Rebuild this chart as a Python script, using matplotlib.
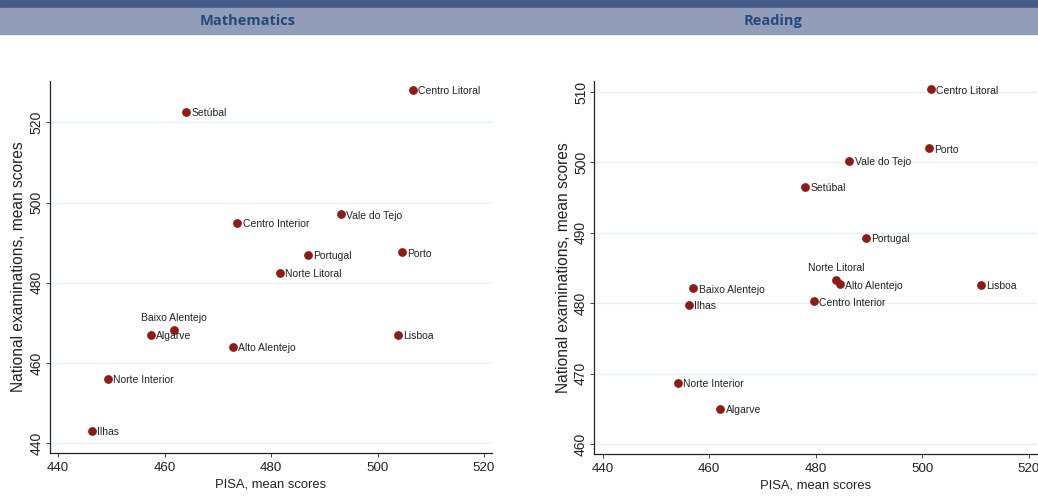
import matplotlib
matplotlib.use('Agg')
import matplotlib.pyplot as plt
from matplotlib.patches import Rectangle

plt.rcParams['font.family'] = ['Liberation Sans', 'DejaVu Sans']

# Mathematics: PISA vs national exams
math_regions = ['Centro Litoral', 'Setúbal', 'Vale do Tejo', 'Centro Interior', 'Portugal',
                'Porto', 'Norte Litoral', 'Baixo Alentejo', 'Algarve', 'Alto Alentejo',
                'Lisboa', 'Norte Interior', 'Ilhas']
math_pisa = [506.6, 464.0, 493.1, 473.7, 486.9, 504.6, 481.6, 461.7, 457.5, 472.9, 503.8, 449.3, 446.3]
math_nat = [528.1, 522.6, 497.1, 494.9, 487.0, 487.6, 482.5, 468.2, 467.1, 464.1, 467.1, 456.1, 443.1]

# Reading
read_regions = ['Centro Litoral', 'Porto', 'Vale do Tejo', 'Setúbal', 'Portugal', 'Norte Litoral',
                'Alto Alentejo', 'Lisboa', 'Baixo Alentejo', 'Ilhas', 'Centro Interior',
                'Norte Interior', 'Algarve']
read_pisa = [501.6, 501.3, 486.3, 478.0, 489.4, 483.8, 484.5, 511.0, 457.0, 456.2, 479.7, 454.1, 462.1]
read_nat = [510.4, 502.0, 500.2, 496.5, 489.3, 483.3, 482.7, 482.6, 482.1, 479.8, 480.3, 468.7, 465.0]

# labels that sit above the marker instead of to the right
above = {'Mathematics': ['Baixo Alentejo'], 'Reading': ['Norte Litoral']}

fig = plt.figure(figsize=(10.38, 5), dpi=100)

# header bands
fig.patches.append(Rectangle((0, 1 - 8 / 500), 1, 8 / 500, transform=fig.transFigure,
                             color='#445b88', zorder=0))
fig.patches.append(Rectangle((0, 1 - 34 / 500), 1, 26 / 500, transform=fig.transFigure,
                             color='#939cb8', zorder=0))
fig.text(248 / 1038, 1 - 21 / 500, 'Mathematics', ha='center', va='center',
         fontsize=10.5, fontweight='bold', color='#244a7c', family=['Open Sans', 'DejaVu Sans'])
fig.text(773 / 1038, 1 - 21 / 500, 'Reading', ha='center', va='center',
         fontsize=10.5, fontweight='bold', color='#244a7c', family=['Open Sans', 'DejaVu Sans'])

panels = [
    ('Mathematics', [49.5 / 1038, 0.0934, (492 - 49.5) / 1038, 0.8386 - 0.0934],
     math_regions, math_pisa, math_nat, (437.5, 530.4), [440, 460, 480, 500, 520]),
    ('Reading', [594.3 / 1038, 0.092, (1036.7 - 594.3) / 1038, 0.8386 - 0.092],
     read_regions, read_pisa, read_nat, (458.6, 511.6), [460, 470, 480, 490, 500, 510]),
]

for name, rect, regions, xs, ys, ylim, yticks in panels:
    ax = fig.add_axes(rect)
    ax.scatter(xs, ys, s=28, color='#8e1b15', zorder=3)
    for r, x, y in zip(regions, xs, ys):
        if r in above[name]:
            ax.annotate(r, (x, y), xytext=(0, 5), textcoords='offset points',
                        ha='center', va='bottom', fontsize=7.5, color='#222222')
        else:
            ax.annotate(r, (x, y), xytext=(3.8, -1), textcoords='offset points',
                        ha='left', va='center', fontsize=7.5, color='#222222')
    ax.set_xlim(438.4, 521.5)
    ax.set_ylim(*ylim)
    ax.set_xticks([440, 460, 480, 500, 520])
    ax.set_yticks(yticks)
    ax.grid(axis='y', color='#e8f0f3', linewidth=1)
    ax.set_axisbelow(True)
    for s in ['top', 'right']:
        ax.spines[s].set_visible(False)
    for s in ['left', 'bottom']:
        ax.spines[s].set_linewidth(0.9)
        ax.spines[s].set_color('#222222')
    ax.tick_params(axis='both', length=3, width=0.6, colors='#222222')
    ax.tick_params(axis='x', labelsize=9.6)
    ax.tick_params(axis='y', labelsize=10, pad=1.5)
    for lbl in ax.get_yticklabels():
        lbl.set_rotation(90)
        lbl.set_va('center')
    ax.set_xlabel('PISA, mean scores', fontsize=9.4, labelpad=3, color='#222222')
    ax.set_ylabel('National examinations, mean scores', fontsize=11.2, labelpad=2, color='#222222')

fig.savefig('out.png', dpi=100)
